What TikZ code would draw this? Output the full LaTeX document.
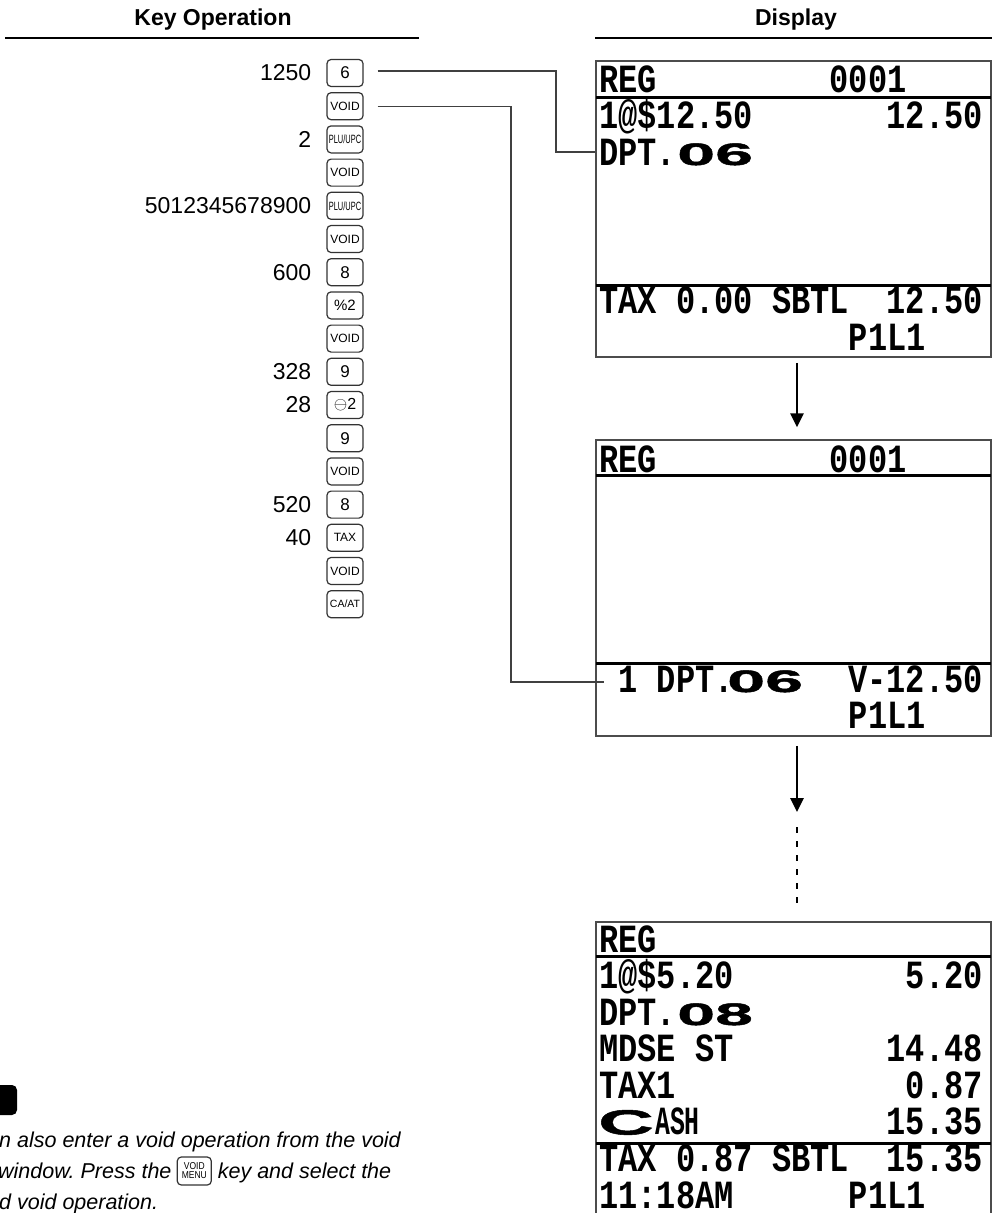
\documentclass[tikz,border=0pt]{standalone}
\usepackage{fontspec}
\usepackage{graphicx}
\setmainfont{Liberation Sans}
\newfontfamily\lcdfam[FakeStretch=0.8]{Liberation Mono}
\newfontfamily\lcdnarrowfam[FakeStretch=0.62]{Liberation Mono}
\newfontfamily\lcdwidefam[FakeStretch=2.2,FakeBold=1.5]{Liberation Sans}
\usetikzlibrary{arrows.meta,calc}
\newcommand\lcdf{\lcdfam\bfseries\fontsize{40pt}{40pt}\selectfont}
\newcommand\lcdn{\lcdnarrowfam\bfseries\fontsize{40pt}{40pt}\selectfont}
\newcommand\lcdw{\lcdwidefam\bfseries\fontsize{31pt}{31pt}\selectfont}
\frenchspacing
\begin{document}
\begin{tikzpicture}[x=1pt,y=-1pt,
  keybox/.style={draw=black!80, line width=1.2pt, rounded corners=4pt, minimum width=36pt, minimum height=27pt, inner sep=0pt, font=\fontsize{17pt}{17pt}\selectfont},
  smallkey/.style={keybox, font=\fontsize{12pt}{12pt}\selectfont},
  num/.style={anchor=east, inner sep=0pt, font=\fontsize{23pt}{23pt}\selectfont},
  lcd/.style={anchor=base west, inner sep=0pt, font=\lcdf},
  lcdr/.style={anchor=base east, inner sep=0pt, font=\lcdf},
  lcdwide/.style={anchor=base west, inner sep=0pt, font=\lcdw},
  disp/.style={draw=black!70, line width=1.5pt, minimum width=395pt, inner sep=0pt},
  sep/.style={line width=3pt},
  conn/.style={draw=black!75, line width=1.2pt},
  flow/.style={line width=2.6pt, -{Triangle[length=14pt,width=13pt]}},
  hdr/.style={anchor=base, inner sep=0pt, font=\bfseries\fontsize{23pt}{23pt}\selectfont},
  notetext/.style={anchor=base west, inner sep=0pt, font=\itshape\fontsize{21.5pt}{21.5pt}\selectfont}
]
\useasboundingbox (0,0) rectangle (992,1213);
\fill[white] (0,0) rectangle (992,1213);

% headers
\node[hdr] (h1) at (213,25.5) {Key Operation};
\draw[line width=2pt] (5,38) -- (419,38);
\node[hdr] (h2) at (796,25.5) {Display};
\draw[line width=2pt] (595,38) -- (992,38);

% keys
\node[keybox] (k1) at (345,73) {6};
\node[num] at ([xshift=-15pt]k1.west) {1250};
\node[smallkey] (k2) at (345,106.2) {VOID};
\node[keybox] (k3) at (345,139.4) {\scalebox{0.62}[1]{\fontsize{12pt}{12pt}\selectfont PLU/UPC}};
\node[num] at ([xshift=-15pt]k3.west) {2};
\node[smallkey] (k4) at (345,172.6) {VOID};
\node[keybox] (k5) at (345,205.8) {\scalebox{0.62}[1]{\fontsize{12pt}{12pt}\selectfont PLU/UPC}};
\node[num] at ([xshift=-15pt]k5.west) {5012345678900};
\node[smallkey] (k6) at (345,239) {VOID};
\node[keybox] (k7) at (345,272.2) {8};
\node[num] at ([xshift=-15pt]k7.west) {600};
\node[keybox, font=\fontsize{15pt}{15pt}\selectfont] (k8) at (345,305.4) {\%2};
\node[smallkey] (k9) at (345,338.6) {VOID};
\node[keybox] (k10) at (345,371.8) {9};
\node[num] at ([xshift=-15pt]k10.west) {328};
\node[keybox, font=\fontsize{16pt}{16pt}\selectfont] (k11) at (345,405) {$\ominus$2};
\node[num] at ([xshift=-15pt]k11.west) {28};
\node[keybox] (k12) at (345,438.2) {9};
\node[smallkey] (k13) at (345,471.4) {VOID};
\node[keybox] (k14) at (345,504.6) {8};
\node[num] at ([xshift=-15pt]k14.west) {520};
\node[smallkey] (k15) at (345,537.8) {TAX};
\node[num] at ([xshift=-15pt]k15.west) {40};
\node[smallkey] (k16) at (345,571) {VOID};
\node[smallkey, font=\fontsize{10.5pt}{10.5pt}\selectfont] (k17) at (345,604.2) {CA/AT};

% display 1
\node[disp, minimum height=296pt] (d1) at (793.5,209) {};
\draw[sep] (596,97) -- (991,97);
\draw[sep] (596,285) -- (991,285);
\node[lcd] at (599,92) {REG};
\node[lcd] at (829.4,92) {0001};
\node[lcd] at (599,128) {1@\$12.50};
\node[lcdr] at (983,128) {12.50};
\node[lcd] at (599,165) {DPT.};
\node[lcdwide] at (677,165) {06};
\node[lcd] at (599,313) {TAX 0.00 SBTL};
\node[lcdr] at (983,313) {12.50};
\node[lcd] at (848.6,350) {P1L1};

% display 2
\node[disp, minimum height=296pt] (d2) at (793.5,588) {};
\draw[sep] (596,475) -- (991,475);
\draw[sep] (596,663) -- (991,663);
\node[lcd] at (599,472) {REG};
\node[lcd] at (829.4,472) {0001};
\node[lcd] at (618.2,692) {1 DPT.};
\node[lcdwide] at (727,692) {06};
\node[lcdr] at (983,692) {V-12.50};
\node[lcd] at (848.6,728) {P1L1};

% display 3
\node[disp, minimum height=298pt] (d3) at (793.5,1071) {};
\draw[sep] (596,956) -- (991,956);
\draw[sep] (596,1143) -- (991,1143);
\node[lcd] at (599,952) {REG};
\node[lcd] at (599,988.5) {1@\$5.20};
\node[lcdr] at (983,988.5) {5.20};
\node[lcd] at (599,1025) {DPT.};
\node[lcdwide] at (677,1025) {08};
\node[lcd] at (599,1061.5) {MDSE ST};
\node[lcdr] at (983,1061.5) {14.48};
\node[lcd] at (599,1098) {TAX1};
\node[lcdr] at (983,1098) {0.87};
\node[lcdwide, font=\lcdwidefam\bfseries\fontsize{35pt}{35pt}\selectfont] (cc) at (598,1134.5) {C};
\node[anchor=base west, inner sep=0pt, font=\lcdn] at (655,1134.5) {ASH};
\node[lcdr] at (983,1134.5) {15.35};
\node[lcd] at (599,1171) {TAX 0.87 SBTL};
\node[lcdr] at (983,1171) {15.35};
\node[lcd] at (599,1208) {11:18AM};
\node[lcd] at (848.6,1208) {P1L1};

% flow arrows
\coordinate (c3) at (797,812);
\coordinate (c4) at (797,827);
\draw[flow] ([xshift=3.5pt,yshift=-5pt]d1.south) -- ([xshift=3.5pt,yshift=12pt]d2.north);
\draw[flow] ([xshift=3.5pt,yshift=-9pt]d2.south) -- (c3);
\draw[line width=2.6pt, dash pattern=on 6pt off 8pt] (c4) -- ([xshift=3.5pt,yshift=15pt]d3.north);

% connectors
\coordinate (c1) at (556,152);
\coordinate (c2) at (511,682);
\draw[conn] ([xshift=14pt,yshift=2pt]k1.east) -| (c1) -- (c1 -| d1.west);
\draw[conn] ([xshift=14pt]k2.east) -| (c2) -- ($(c2 -| d2.west)+(9,0)$);

% note
\fill[rounded corners=5pt] (-30,1085) rectangle (17,1115);
\node[notetext] (n1) at (-1,1147) {n also enter a void operation from the void};
\node[notetext] (n2) at (-2,1178) {window. Press the};
\node[keybox, minimum width=34pt, minimum height=28pt, align=center, font=\fontsize{10pt}{10pt}\selectfont, anchor=west] (vm) at ($(n2.base east)+(5,-7)$) {\scalebox{0.85}[1]{VOID}\\[-1pt]\scalebox{0.85}[1]{MENU}};
\node[notetext] (n2b) at ($(n2.base east)+(46,0)$) {key and select the};
\node[notetext] (n3) at (-1,1209) {d void operation.};
\end{tikzpicture}
\end{document}
